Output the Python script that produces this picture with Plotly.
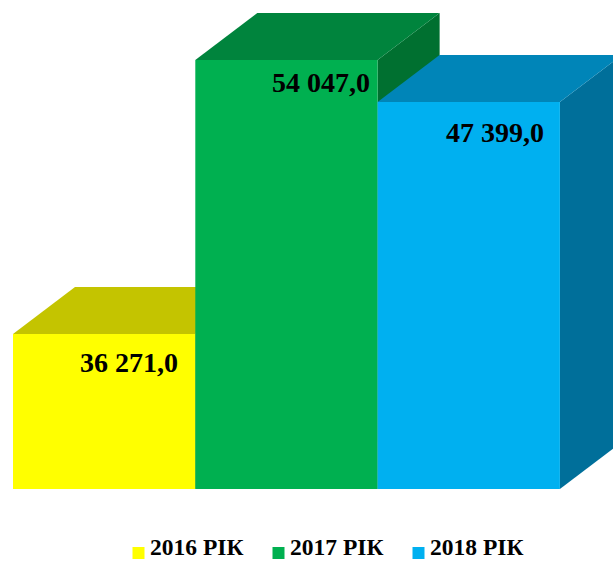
import plotly.graph_objects as go

# Data
categories = ["2016 РІК", "2017 РІК", "2018 РІК"]
value_labels = ["36 271,0", "54 047,0", "47 399,0"]
# Bar heights as drawn in the picture, read on the chart's (distorted) scale
bar_heights = [19530, 54047, 48760]
front_colors = ["#FFFF00", "#00B050", "#00B0F0"]
top_colors = ["#C4C400", "#00843D", "#0085B8"]
side_colors = ["#9C9C00", "#007030", "#006F9A"]

# Chart geometry
PX_X = 182.3          # pixels per category
PX_Y = 54047 / 429    # axis units per pixel
DX = 62 / PX_X        # depth of the 3D extrusion, category units
DY = 47 * PX_Y        # depth of the 3D extrusion, axis units
W, H = 613, 561
LEFT, BASE = 13, 489


def face(xs, ys, color):
    return go.Scatter(x=xs, y=ys, mode="lines", fill="toself", fillcolor=color,
                      line=dict(width=0), showlegend=False, hoverinfo="skip")


fig = go.Figure()
for i, v in enumerate(bar_heights):
    l, r = i - 0.5, i + 0.5
    fig.add_trace(face([r, r + DX, r + DX, r, r], [0, DY, v + DY, v, 0], side_colors[i]))
    fig.add_trace(face([l, l + DX, r + DX, r, l], [v, v + DY, v + DY, v, v], top_colors[i]))
    fig.add_trace(face([l, l, r, r, l], [0, v, v, 0, 0], front_colors[i]))

# Value labels inside the front faces
label_offsets = [(0.137, -29), (0.187, -22), (0.145, -31)]
for i, (txt, v) in enumerate(zip(value_labels, bar_heights)):
    dx, dy = label_offsets[i]
    fig.add_annotation(x=i + dx, y=v + dy * PX_Y, text=f"<b>{txt}</b>", showarrow=False,
                       font=dict(family="Liberation Serif", size=28, color="#000000"))

# Legend row under the bars
MARKER_Y = -64 * PX_Y
TEXT_Y = -60 * PX_Y
LEGEND_STEP = 140 / PX_X
TEXT_GAP = 11.5 / PX_X
legend_x0 = -0.5 + (138.5 - LEFT) / PX_X
for i, cat in enumerate(categories):
    fig.add_trace(go.Scatter(
        x=[legend_x0 + i * LEGEND_STEP], y=[MARKER_Y], mode="markers",
        marker=dict(symbol="square", size=12, color=front_colors[i], line=dict(width=0)),
        showlegend=False, hoverinfo="skip"))
    fig.add_trace(go.Scatter(
        x=[legend_x0 + i * LEGEND_STEP + TEXT_GAP], y=[TEXT_Y], mode="text",
        text=[f"<b>{cat}</b>"], textposition="middle right",
        textfont=dict(family="Liberation Serif", size=23.5, color="#000000"),
        showlegend=False, hoverinfo="skip", cliponaxis=False))

x0 = -0.5 - LEFT / PX_X
fig.update_layout(
    width=W, height=H, margin=dict(l=0, r=0, t=0, b=0),
    paper_bgcolor="white", plot_bgcolor="white", showlegend=False,
    xaxis=dict(range=[x0, x0 + W / PX_X], visible=False, fixedrange=True),
    yaxis=dict(range=[(BASE - H) * PX_Y, BASE * PX_Y], visible=False, fixedrange=True),
)
fig.write_html("out.html", config={"displayModeBar": False},
               post_script="document.body.style.margin='0';")
